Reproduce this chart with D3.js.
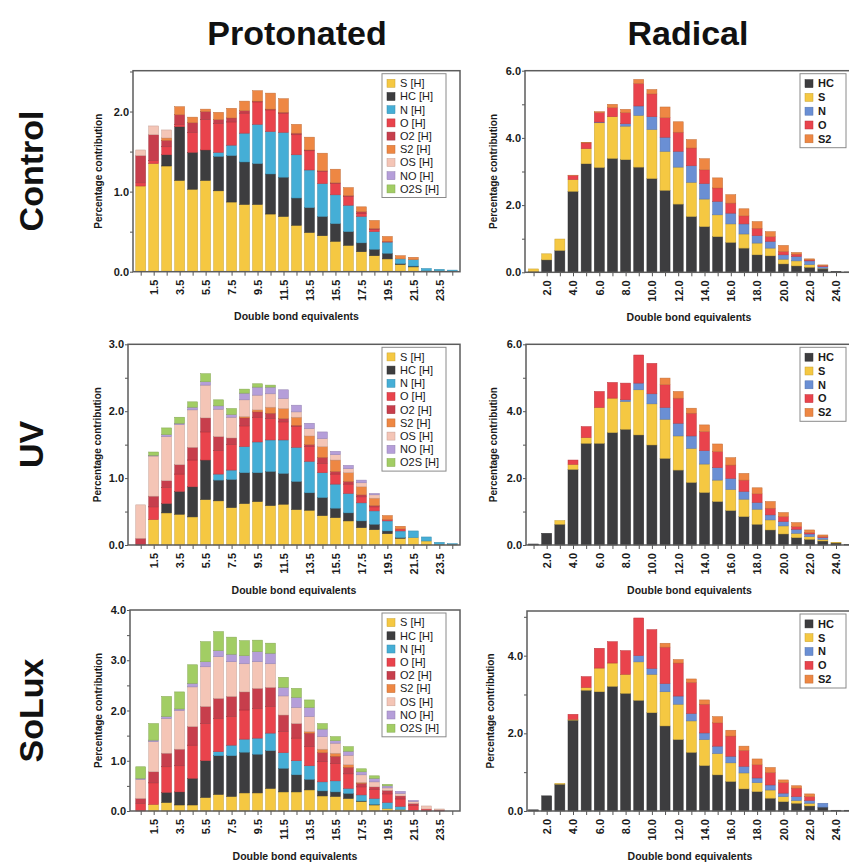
<!DOCTYPE html>
<html>
<head>
<meta charset="utf-8">
<script src="https://cdn.jsdelivr.net/npm/d3@7"></script>
<style>
    body { margin: 0; background: #fff; }
    svg { font-family: "Liberation Sans", Arial, Helvetica, sans-serif; }
</style>
</head>
<body>
<svg id="fig" width="849" height="862"></svg>
<script>
// ---- categories ----
const protDbe = [0.5, 1.5, 2.5, 3.5, 4.5, 5.5, 6.5, 7.5, 8.5, 9.5, 10.5, 11.5, 12.5, 13.5, 14.5, 15.5, 16.5, 17.5, 18.5, 19.5, 20.5, 21.5, 22.5, 23.5, 24.5];
const protLabels = [1.5, 3.5, 5.5, 7.5, 9.5, 11.5, 13.5, 15.5, 17.5, 19.5, 21.5, 23.5];
const radDbe = [1, 2, 3, 4, 5, 6, 7, 8, 9, 10, 11, 12, 13, 14, 15, 16, 17, 18, 19, 20, 21, 22, 23, 24, 25];
const radLabels = [2, 4, 6, 8, 10, 12, 14, 16, 18, 20, 22, 24];

const protKeys = ["S [H]", "HC [H]", "N [H]", "O [H]", "O2 [H]", "S2 [H]", "OS [H]", "NO [H]", "O2S [H]"];
const protColors = ["#f5c842", "#3d3d3f", "#45aed6", "#e9434c", "#c73e4c", "#ee8743", "#f4c5b6", "#b59ed9", "#a2cd64"];
const radKeys = ["HC", "S", "N", "O", "S2"];
const radColors = ["#3d3d3f", "#f5c842", "#6a8fd4", "#e9434c", "#ee8743"];

// ---- Control, protonated ----
const controlProtS   = [1.07, 1.35, 1.32, 1.14, 1.03, 1.14, 1.01, 0.87, 0.84, 0.84, 0.72, 0.69, 0.58, 0.49, 0.45, 0.38, 0.33, 0.25, 0.20, 0.16, 0.09, 0.06, 0.01, 0.01, 0.005];
const controlProtHC  = [0, 0, 0.14, 0.67, 0.46, 0.38, 0.43, 0.58, 0.53, 0.51, 0.50, 0.49, 0.34, 0.31, 0.24, 0.22, 0.17, 0.11, 0.08, 0.07, 0.01, 0.01, 0, 0, 0];
const controlProtN   = [0, 0, 0, 0, 0, 0, 0.05, 0.13, 0.36, 0.49, 0.53, 0.56, 0.54, 0.47, 0.41, 0.36, 0.33, 0.33, 0.22, 0.14, 0.06, 0.08, 0.03, 0.02, 0.015];
const controlProtO   = [0.04, 0.04, 0.10, 0.03, 0.25, 0.38, 0.36, 0.29, 0.25, 0.28, 0.27, 0.24, 0.25, 0.24, 0.15, 0.14, 0.11, 0.04, 0.03, 0.01, 0, 0, 0, 0, 0];
const controlProtO2  = [0.34, 0.32, 0.08, 0.12, 0.12, 0.10, 0.05, 0.05, 0.03, 0.01, 0.01, 0.01, 0.02, 0.01, 0.01, 0.01, 0.01, 0.02, 0.01, 0, 0, 0, 0, 0, 0];
const controlProtS2  = [0, 0, 0.03, 0.10, 0.07, 0.03, 0.09, 0.12, 0.12, 0.13, 0.20, 0.17, 0.11, 0.16, 0.22, 0.17, 0.10, 0.06, 0.10, 0.06, 0.04, 0.03, 0, 0, 0];
const controlProtOS  = [0.07, 0.11, 0.10, 0, 0, 0, 0, 0, 0, 0, 0, 0, 0, 0, 0, 0, 0, 0, 0, 0, 0, 0, 0, 0, 0];
const controlProtNO  = [0, 0, 0, 0, 0, 0, 0, 0, 0, 0, 0, 0, 0, 0, 0, 0, 0, 0, 0, 0, 0, 0, 0, 0, 0];
const controlProtO2S = [0, 0, 0, 0, 0, 0, 0, 0, 0, 0, 0, 0, 0, 0, 0, 0, 0, 0, 0, 0, 0, 0, 0, 0, 0];

// ---- UV, protonated ----
const uvProtS   = [0, 0.38, 0.48, 0.46, 0.42, 0.68, 0.66, 0.56, 0.62, 0.65, 0.59, 0.61, 0.53, 0.52, 0.44, 0.41, 0.36, 0.26, 0.23, 0.17, 0.10, 0.11, 0.06, 0.01, 0.005];
const uvProtHC  = [0, 0, 0.14, 0.34, 0.45, 0.59, 0.31, 0.42, 0.46, 0.43, 0.51, 0.46, 0.42, 0.26, 0.27, 0.14, 0.12, 0.10, 0.08, 0.04, 0.01, 0, 0, 0, 0];
const uvProtN   = [0, 0, 0, 0, 0, 0, 0.09, 0.14, 0.39, 0.46, 0.47, 0.50, 0.51, 0.47, 0.37, 0.36, 0.29, 0.27, 0.20, 0.15, 0.10, 0.10, 0.06, 0.03, 0.015];
const uvProtO   = [0, 0.19, 0.24, 0.26, 0.40, 0.42, 0.35, 0.38, 0.31, 0.37, 0.32, 0.27, 0.31, 0.22, 0.14, 0.15, 0.14, 0.09, 0.06, 0.02, 0.03, 0, 0, 0, 0];
const uvProtO2  = [0.10, 0.16, 0.10, 0.14, 0.19, 0.21, 0.21, 0.10, 0.12, 0.08, 0.08, 0.05, 0.02, 0.03, 0.09, 0.04, 0.04, 0.03, 0.02, 0, 0, 0, 0, 0, 0];
const uvProtS2  = [0, 0, 0, 0, 0, 0, 0, 0, 0.02, 0.03, 0.09, 0.15, 0.12, 0.13, 0.16, 0.17, 0.13, 0.12, 0.11, 0.06, 0.04, 0, 0, 0, 0];
const uvProtOS  = [0.50, 0.60, 0.66, 0.60, 0.56, 0.49, 0.41, 0.31, 0.25, 0.22, 0.20, 0.15, 0.08, 0.11, 0.12, 0.08, 0.06, 0.06, 0.05, 0, 0, 0, 0, 0, 0];
const uvProtNO  = [0, 0.01, 0.03, 0.02, 0.04, 0.05, 0.05, 0.04, 0.10, 0.12, 0.10, 0.13, 0.10, 0.08, 0.10, 0.05, 0.05, 0.04, 0.02, 0, 0, 0, 0, 0, 0];
const uvProtO2S = [0, 0.05, 0.10, 0.09, 0.08, 0.12, 0.09, 0.09, 0.06, 0.05, 0.03, 0, 0, 0, 0, 0, 0, 0, 0, 0, 0, 0, 0, 0, 0];

// ---- SoLux, protonated ----
const soluxProtS   = [0, 0.13, 0.17, 0.12, 0.12, 0.27, 0.33, 0.29, 0.36, 0.36, 0.45, 0.38, 0.38, 0.42, 0.30, 0.29, 0.25, 0.19, 0.12, 0.05, 0.03, 0, 0, 0, 0];
const soluxProtHC  = [0, 0, 0.20, 0.26, 0.53, 0.73, 0.77, 0.81, 0.81, 0.77, 0.75, 0.47, 0.34, 0.21, 0.10, 0.09, 0.10, 0.01, 0.01, 0, 0, 0, 0, 0, 0];
const soluxProtN   = [0, 0, 0, 0, 0, 0, 0.08, 0.21, 0.26, 0.32, 0.35, 0.31, 0.28, 0.27, 0.18, 0.22, 0.10, 0.12, 0.12, 0.12, 0.06, 0.01, 0, 0, 0];
const soluxProtO   = [0.15, 0.43, 0.51, 0.52, 0.66, 0.74, 0.66, 0.57, 0.58, 0.59, 0.53, 0.42, 0.45, 0.38, 0.40, 0.35, 0.29, 0.16, 0.18, 0.17, 0.15, 0.10, 0.04, 0.02, 0];
const soluxProtO2  = [0.10, 0.22, 0.27, 0.33, 0.37, 0.34, 0.40, 0.40, 0.36, 0.40, 0.38, 0.33, 0.29, 0.27, 0.18, 0.14, 0.13, 0.07, 0.05, 0.07, 0.06, 0.04, 0, 0, 0];
const soluxProtS2  = [0, 0, 0, 0, 0, 0, 0, 0, 0, 0, 0, 0, 0, 0.03, 0.07, 0.06, 0.05, 0.02, 0, 0, 0, 0, 0, 0, 0];
const soluxProtOS  = [0.38, 0.60, 0.69, 0.77, 0.79, 0.79, 0.83, 0.69, 0.56, 0.53, 0.47, 0.38, 0.32, 0.30, 0.25, 0.20, 0.19, 0.15, 0.10, 0.05, 0.05, 0.04, 0.06, 0.02, 0];
const soluxProtNO  = [0.02, 0.03, 0.04, 0.03, 0.07, 0.10, 0.12, 0.15, 0.16, 0.20, 0.21, 0.17, 0.20, 0.18, 0.15, 0.05, 0.08, 0.06, 0.07, 0.04, 0.04, 0.02, 0, 0, 0];
const soluxProtO2S = [0.23, 0.33, 0.40, 0.34, 0.37, 0.40, 0.38, 0.34, 0.30, 0.23, 0.20, 0.20, 0.18, 0.15, 0.11, 0.08, 0.09, 0.06, 0.05, 0.03, 0, 0, 0, 0, 0];

// ---- Control, radical ----
const controlRadHC = [0.02, 0.37, 0.65, 2.41, 3.23, 3.12, 3.39, 3.35, 3.13, 2.79, 2.44, 2.03, 1.66, 1.36, 1.06, 0.89, 0.72, 0.52, 0.49, 0.25, 0.19, 0.15, 0.10, 0.03, 0.01];
const controlRadS  = [0.08, 0.18, 0.34, 0.35, 0.45, 1.33, 1.24, 1.00, 1.54, 1.46, 1.16, 1.10, 1.02, 0.82, 0.65, 0.55, 0.42, 0.35, 0.23, 0.14, 0.15, 0.08, 0.02, 0, 0];
const controlRadN  = [0, 0, 0, 0, 0, 0.02, 0, 0.07, 0.28, 0.38, 0.42, 0.47, 0.49, 0.46, 0.40, 0.32, 0.30, 0.22, 0.20, 0.13, 0.13, 0.11, 0.05, 0, 0];
const controlRadO  = [0, 0, 0, 0.12, 0.17, 0.28, 0.27, 0.33, 0.67, 0.68, 0.58, 0.57, 0.53, 0.41, 0.40, 0.30, 0.24, 0.22, 0.14, 0.10, 0.07, 0.03, 0.03, 0, 0];
const controlRadS2 = [0, 0, 0, 0.01, 0.02, 0.03, 0.10, 0.10, 0.12, 0.13, 0.32, 0.31, 0.25, 0.33, 0.30, 0.25, 0.21, 0.20, 0.15, 0.18, 0.05, 0.03, 0.02, 0, 0];

// ---- UV, radical ----
const uvRadHC = [0.03, 0.35, 0.62, 2.26, 3.04, 3.04, 3.36, 3.46, 3.29, 2.99, 2.59, 2.24, 1.87, 1.57, 1.30, 1.03, 0.85, 0.62, 0.45, 0.33, 0.22, 0.17, 0.12, 0.06, 0.01];
const uvRadS  = [0, 0, 0.11, 0.15, 0.17, 1.07, 1.03, 0.83, 1.35, 1.23, 1.17, 1.02, 1.02, 0.85, 0.64, 0.63, 0.52, 0.45, 0.30, 0.24, 0.13, 0.08, 0.05, 0.02, 0];
const uvRadN  = [0, 0, 0, 0, 0, 0, 0, 0.05, 0.20, 0.30, 0.35, 0.38, 0.37, 0.40, 0.37, 0.33, 0.23, 0.20, 0.15, 0.13, 0.12, 0.08, 0.05, 0, 0];
const uvRadO  = [0, 0, 0, 0.13, 0.33, 0.48, 0.47, 0.50, 0.84, 0.91, 0.68, 0.75, 0.68, 0.57, 0.48, 0.40, 0.34, 0.26, 0.20, 0.15, 0.08, 0.04, 0.03, 0, 0];
const uvRadS2 = [0, 0, 0, 0, 0, 0, 0, 0, 0, 0, 0.20, 0.20, 0.15, 0.20, 0.23, 0.22, 0.20, 0.18, 0.20, 0.12, 0.12, 0.08, 0.05, 0, 0];

// ---- SoLux, radical ----
const soluxRadHC = [0.03, 0.39, 0.69, 2.34, 3.11, 3.07, 3.21, 3.03, 2.85, 2.53, 2.19, 1.84, 1.51, 1.17, 0.93, 0.76, 0.57, 0.50, 0.33, 0.24, 0.20, 0.13, 0.10, 0.02, 0.02];
const soluxRadS  = [0, 0, 0.02, 0.02, 0.07, 0.61, 0.60, 0.49, 0.99, 0.99, 0.88, 0.91, 0.81, 0.67, 0.55, 0.48, 0.41, 0.23, 0.21, 0.13, 0.07, 0.07, 0, 0, 0];
const soluxRadN  = [0, 0, 0, 0, 0, 0, 0, 0, 0.16, 0.15, 0.21, 0.21, 0.19, 0.17, 0.19, 0.17, 0.17, 0.12, 0.13, 0.09, 0.10, 0.07, 0.10, 0, 0];
const soluxRadO  = [0, 0, 0, 0.13, 0.28, 0.51, 0.55, 0.61, 0.97, 1.00, 0.94, 0.85, 0.80, 0.74, 0.60, 0.52, 0.41, 0.34, 0.32, 0.27, 0.22, 0.10, 0, 0, 0];
const soluxRadS2 = [0, 0, 0, 0, 0, 0, 0, 0, 0, 0, 0.10, 0.09, 0.09, 0.11, 0.16, 0.15, 0.11, 0.15, 0.13, 0.07, 0.06, 0.07, 0, 0, 0];

// pixel reference for the dbe axis (same spacing in every column)
const protRef = d3.scaleLinear().domain([0.5, 23.5]).range([140.7, 439.3]);
const radRef = d3.scaleLinear().domain([2, 24]).range([546.7, 836]);

class DbePanel {
    constructor(svg, cfg) {
        this.svg = svg;
        this.cfg = cfg;
        this.initVis();
    }

    initVis() {
        const self = this;
        const c = self.cfg;

        self.width = c.right - c.left;
        self.height = c.bottom - c.top;
        self.g = self.svg.append("g").attr("transform", `translate(${c.left},${c.top})`);

        self.x = d3.scaleLinear().domain([c.ref.invert(c.left), c.ref.invert(c.right)]).range([0, self.width]);
        self.y = d3.scaleLinear().domain([0, c.yMax]).range([self.height, 0]);
        self.color = d3.scaleOrdinal().domain(c.keys).range(c.colors);

        // table for the stack
        let rows = c.dbe.map((d, i) => {
            let row = {dbe: d};
            c.keys.forEach((k, j) => row[k] = c.values[j][i]);
            return row;
        });
        let stacked = d3.stack().keys(c.keys)(rows);

        let bw = self.x(0.76) - self.x(0);

        self.g.selectAll("g.layer")
            .data(stacked)
            .enter()
            .append("g")
            .attr("class", "layer")
            .attr("fill", d => self.color(d.key))
            .attr("stroke", d => d3.color(self.color(d.key)).darker(0.6))
            .attr("stroke-width", 0.5)
            .selectAll("rect")
            .data(d => d.filter(s => s[1] - s[0] > 0))
            .enter()
            .append("rect")
            .attr("x", d => self.x(d.data.dbe) - bw / 2)
            .attr("width", bw)
            .attr("y", d => self.y(d[1]))
            .attr("height", d => self.y(d[0]) - self.y(d[1]));

        // y axis, labelled + minor ticks
        let majors = d3.range(0, c.yMax + 1e-6, c.major);
        let minors = d3.range(0, c.yMax + 1e-6, c.minor).filter(v => !majors.some(m => Math.abs(m - v) < 1e-6));

        let gy = self.g.append("g")
            .call(d3.axisLeft(self.y).tickValues(majors).tickFormat(d3.format(".1f")).tickSize(3).tickPadding(1));
        gy.select(".domain").remove();
        let gyMinor = self.g.append("g")
            .call(d3.axisLeft(self.y).tickValues(minors).tickFormat("").tickSize(3));
        gyMinor.select(".domain").remove();

        // x axis, one tick per bar, every second one labelled
        let gx = self.g.append("g")
            .attr("transform", `translate(0,${self.height})`)
            .call(d3.axisBottom(self.x).tickValues(c.dbe).tickSize(4)
                .tickFormat(d => c.labels.includes(d) ? d3.format(".1f")(d) : ""));
        gx.select(".domain").remove();
        gx.selectAll("text")
            .attr("transform", "rotate(-90)")
            .attr("x", -8)
            .attr("y", 0)
            .attr("dy", "0.35em")
            .style("text-anchor", "end");

        [gx, gy, gyMinor].forEach(a => {
            a.selectAll("line").attr("stroke", "#555");
            a.selectAll("text")
                .attr("fill", "#1a1a1a")
                .style("font-size", "11px")
                .style("font-weight", "bold")
                .style("font-family", "Liberation Sans, Arial, sans-serif");
        });

        // frame
        self.g.append("rect")
            .attr("width", self.width)
            .attr("height", self.height)
            .attr("fill", "none")
            .attr("stroke", "#5c5c5c")
            .attr("stroke-width", 1.5);

        // axis titles
        self.g.append("text")
            .attr("x", self.width / 2 + c.xTitleShift)
            .attr("y", self.height + 45)
            .attr("dy", "0.35em")
            .attr("text-anchor", "middle")
            .style("font-size", "10.5px")
            .style("font-weight", "bold")
            .attr("fill", "#1a1a1a")
            .text("Double bond equivalents");

        self.g.append("text")
            .attr("transform", `translate(${c.yTitleX - c.left},${self.height / 2}) rotate(-90)`)
            .attr("dy", "0.35em")
            .attr("text-anchor", "middle")
            .style("font-size", "10px")
            .style("font-weight", "bold")
            .attr("fill", "#1a1a1a")
            .text("Percentage contribution");

        self.drawLegend();
    }

    drawLegend() {
        const self = this;
        const c = self.cfg;
        let rowH = c.legendRow;
        let lw = c.legendW;
        let lh = c.keys.length * rowH + 5;
        let lg = self.g.append("g")
            .attr("transform", `translate(${self.width - c.legendRight - lw},3)`);

        lg.append("rect")
            .attr("width", lw)
            .attr("height", lh)
            .attr("fill", "#fff")
            .attr("stroke", "#8a8a8a")
            .attr("stroke-width", 1);

        let items = lg.selectAll("g.item")
            .data(c.keys)
            .enter()
            .append("g")
            .attr("class", "item")
            .attr("transform", (d, i) => `translate(5,${3 + i * rowH})`);

        items.append("rect")
            .attr("y", (rowH - 8) / 2)
            .attr("width", 8)
            .attr("height", 8)
            .attr("fill", d => self.color(d))
            .attr("stroke", d => d3.color(self.color(d)).darker(0.6))
            .attr("stroke-width", 0.5);

        items.append("text")
            .attr("x", 13)
            .attr("y", rowH / 2)
            .attr("dy", "0.35em")
            .style("font-size", "11px")
            .style("font-weight", c.legendBold ? "bold" : "normal")
            .attr("fill", "#1a1a1a")
            .text(d => d);
    }
}

const svg = d3.select("#fig");

const protCommon = {dbe: protDbe, labels: protLabels, keys: protKeys, colors: protColors, ref: protRef,
    right: 460, legendW: 64, legendRight: 14, legendRow: 13.2, legendBold: false, xTitleShift: 0};
const radCommon = {dbe: radDbe, labels: radLabels, keys: radKeys, colors: radColors, ref: radRef,
    right: 853, legendW: 46, legendRight: 7, legendRow: 13.8, legendBold: true, xTitleShift: 0};

new DbePanel(svg, Object.assign({}, protCommon, {
    left: 133, top: 70.7, bottom: 271.7, yMax: 2.51, major: 1, minor: 0.5, yTitleX: 98,
    values: [controlProtS, controlProtHC, controlProtN, controlProtO, controlProtO2, controlProtS2, controlProtOS, controlProtNO, controlProtO2S]
}));
new DbePanel(svg, Object.assign({}, radCommon, {
    left: 525, top: 70.7, bottom: 272.3, yMax: 6, major: 2, minor: 1, yTitleX: 493,
    values: [controlRadHC, controlRadS, controlRadN, controlRadO, controlRadS2]
}));
new DbePanel(svg, Object.assign({}, protCommon, {
    left: 128, top: 344.3, bottom: 545, yMax: 3, major: 1, minor: 0.5, yTitleX: 97,
    values: [uvProtS, uvProtHC, uvProtN, uvProtO, uvProtO2, uvProtS2, uvProtOS, uvProtNO, uvProtO2S]
}));
new DbePanel(svg, Object.assign({}, radCommon, {
    left: 526, top: 344.3, bottom: 545, yMax: 6, major: 2, minor: 1, yTitleX: 493,
    values: [uvRadHC, uvRadS, uvRadN, uvRadO, uvRadS2]
}));
new DbePanel(svg, Object.assign({}, protCommon, {
    left: 130, top: 610, bottom: 811, yMax: 4, major: 1, minor: 0.5, yTitleX: 98,
    values: [soluxProtS, soluxProtHC, soluxProtN, soluxProtO, soluxProtO2, soluxProtS2, soluxProtOS, soluxProtNO, soluxProtO2S]
}));
new DbePanel(svg, Object.assign({}, radCommon, {
    left: 527, top: 611, bottom: 811, yMax: 5.15, major: 2, minor: 1, yTitleX: 490,
    values: [soluxRadHC, soluxRadS, soluxRadN, soluxRadO, soluxRadS2]
}));

// column and row headings
svg.selectAll("text.col")
    .data([{t: "Protonated", x: 297}, {t: "Radical", x: 688}])
    .enter()
    .append("text")
    .attr("class", "col")
    .attr("x", d => d.x)
    .attr("y", 45)
    .attr("text-anchor", "middle")
    .style("font-size", "34px")
    .style("font-weight", "bold")
    .attr("fill", "#111")
    .text(d => d.t);

svg.selectAll("text.row")
    .data([{t: "Control", y: 171}, {t: "UV", y: 444.5}, {t: "SoLux", y: 710.5}])
    .enter()
    .append("text")
    .attr("class", "row")
    .attr("transform", d => `translate(43,${d.y}) rotate(-90)`)
    .attr("text-anchor", "middle")
    .style("font-size", "34px")
    .style("font-weight", "bold")
    .attr("fill", "#111")
    .text(d => d.t);
</script>
</body>
</html>
